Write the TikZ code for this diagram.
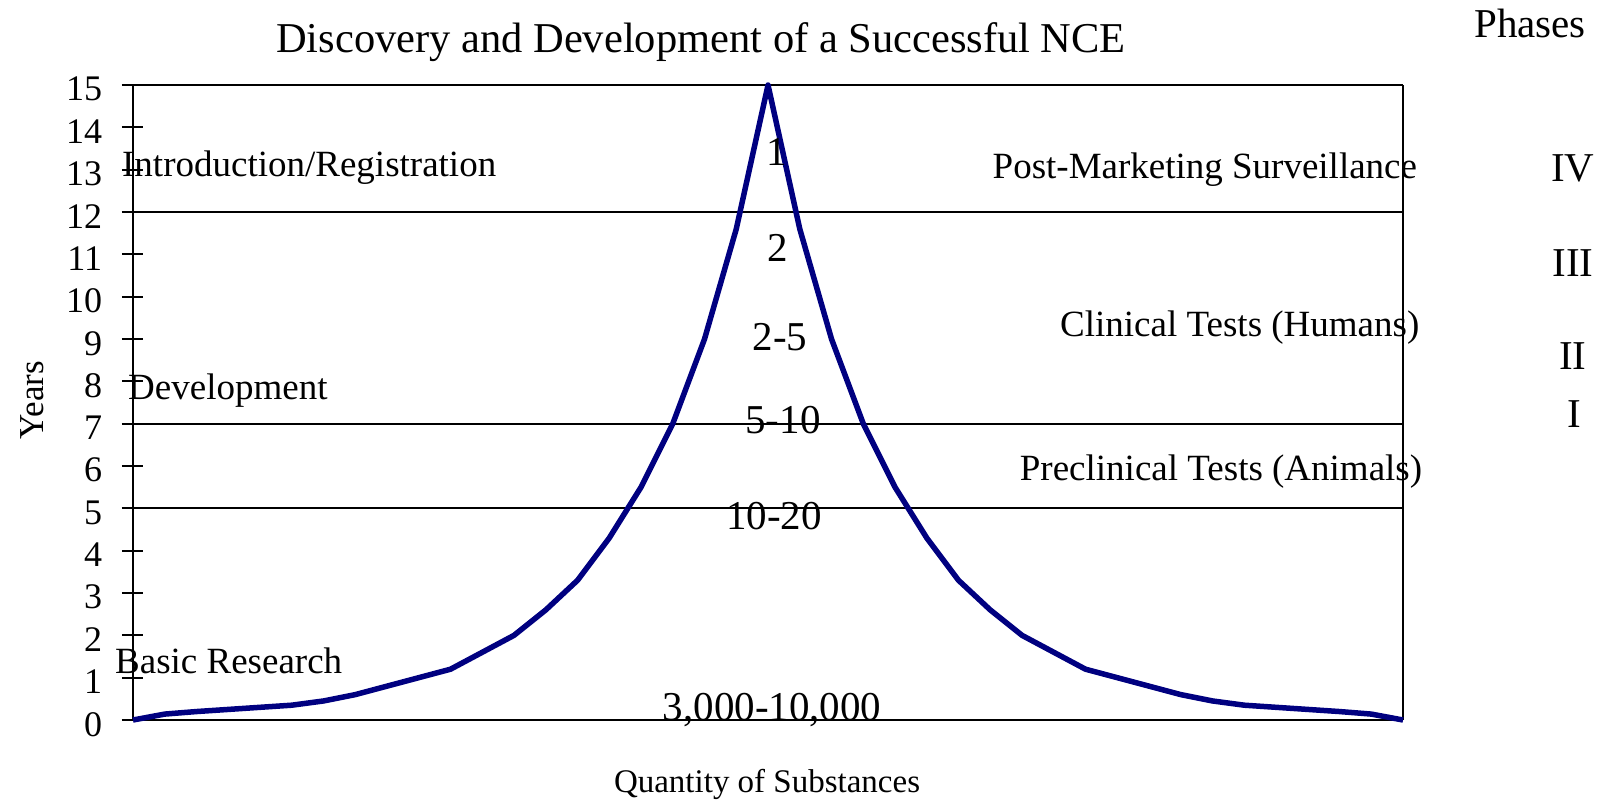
\documentclass[tikz,border=0pt]{standalone}
\usepackage{fontspec}
\setmainfont{Liberation Serif}
\usepackage{xcolor}
\usetikzlibrary{positioning}
\definecolor{navy}{RGB}{0,0,128}

\begin{document}
\begin{tikzpicture}[x=31.75pt, y=42.33pt, line width=1.8pt,
                    chart line/.style={line width=5.5pt,draw=navy,line join=round},
                    tick label/.style={anchor=east,inner sep=0pt,font=\fontsize{36}{40}\selectfont},
                    stage label/.style={inner sep=0pt,font=\fontsize{37}{40}\selectfont},
                    count label/.style={anchor=base,inner sep=0pt,font=\fontsize{41}{44}\selectfont},
                    phase label/.style={anchor=base,inner sep=0pt,font=\fontsize{41}{44}\selectfont}]
      \useasboundingbox (-4.189,-1.937) rectangle (46.55,17.009);

      % frame, grid lines and y ticks
      \draw (0,0) -- (0,15);
      \draw (40,0) -- (40,15);
      \foreach \g in {0,5,7,12,15}
        \draw (-0.35,\g) -- (40,\g);
      \foreach \t in {0,...,15} {
        \draw (-0.35,\t) -- (0.31,\t);
        \node[tick label] (t\t) at (-0.945,\t-0.1) {\t};
      }

      % number of substances left in the pipeline
      \draw[chart line] plot coordinates {
        (0,0) (1,0.14) (2,0.2) (3,0.25) (4,0.3) (5,0.35) (6,0.45) (7,0.6)
        (8,0.8) (9,1.0) (10,1.2) (11,1.6) (12,2.0) (13,2.6) (14,3.3)
        (15,4.3) (16,5.5) (17,7) (18,9) (19,11.6) (20,15)
        (21,11.6) (22,9) (23,7) (24,5.5) (25,4.3) (26,3.3) (27,2.6)
        (28,2.0) (29,1.6) (30,1.2) (31,1.0) (32,0.8) (33,0.6) (34,0.45)
        (35,0.35) (36,0.3) (37,0.25) (38,0.2) (39,0.14) (40,0)};

      \node[anchor=base,inner sep=0pt,font=\fontsize{42.5}{46}\selectfont] (title) at (17.89,15.78)
        {Discovery and Development of a Successful NCE};
      \node[anchor=base,inner sep=0pt,font=\fontsize{35}{38}\selectfont,rotate=90] (years) at (-2.83,7.56) {Years};
      \node[anchor=base,inner sep=0pt,font=\fontsize{33}{36}\selectfont] (quantity) at (19.97,-1.72) {Quantity of Substances};

      \node[stage label,anchor=base west] (intro) at (-0.37,12.83) {Introduction/Registration};
      \node[stage label,anchor=base west] (devel) at (-0.18,7.56) {Development};
      \node[stage label,anchor=base west] (basic) at (-0.59,1.11) {Basic Research};
      \node[stage label,anchor=base east] (post) at (40.47,12.80) {Post-Marketing Surveillance};
      \node[stage label,anchor=base east] (clinical) at (40.54,9.05) {Clinical Tests (Humans)};
      \node[stage label,anchor=base east] (preclinical) at (40.63,5.65) {Preclinical Tests (Animals)};

      \node[count label] (c1) at (20.28,13.11) {1};
      \node[count label] (c2) at (20.31,10.82) {2};
      \node[count label] (c3) at (20.38,8.72) {2-5};
      \node[count label] (c4) at (20.47,6.76) {5-10};
      \node[count label] (c5) at (20.19,4.49) {10-20};
      \node[count label] (c6) at (20.13,0) {3,000-10,000};

      \node[phase label] (phases) at (44.0,16.13) {Phases};
      \node[phase label] (p4) at (45.35,12.73) {IV};
      \node[phase label] (p3) at (45.35,10.47) {III};
      \node[phase label] (p2) at (45.35,8.27) {II};
      \node[phase label] (p1) at (45.40,6.90) {I};
\end{tikzpicture}
\end{document}
